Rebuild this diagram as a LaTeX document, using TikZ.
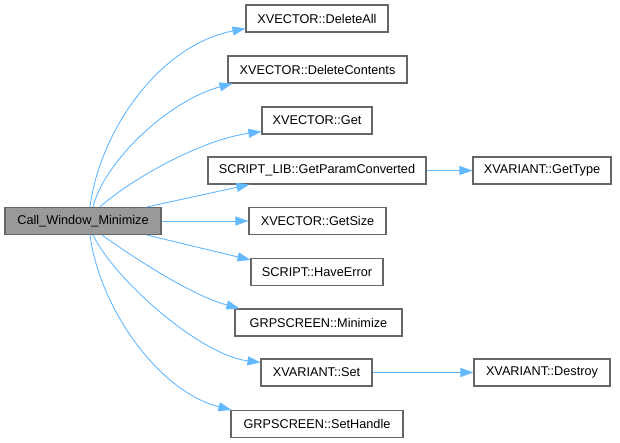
\documentclass[tikz,border=0pt]{standalone}
\usepackage{fontspec}
\setmainfont{Liberation Sans}
\usetikzlibrary{arrows.meta}
\definecolor{edgeblue}{HTML}{63B8FF}
\definecolor{boxborder}{HTML}{666666}
\definecolor{mainfill}{HTML}{999999}
\begin{document}
\begin{tikzpicture}[x=1pt,y=-1pt,
  box/.style={draw=boxborder, fill=white, line width=1.1pt, minimum height=27pt, inner sep=0pt, font=\fontsize{12.7}{14}\selectfont},
  mainbox/.style={box, fill=mainfill},
  edge/.style={draw=edgeblue, line width=0.9pt, -{Triangle[length=13pt,width=9pt]}}]
\useasboundingbox (0,0) rectangle (620,443);
\node[mainbox, minimum width=156pt] (main) at (83,221) {Call\_Window\_Minimize};
\node[box, minimum width=142pt] (dall) at (317,18.5) {XVECTOR::DeleteAll};
\node[box, minimum width=179pt] (dcon) at (317.5,69.5) {XVECTOR::DeleteContents};
\node[box, minimum width=110pt] (get) at (317,120.5) {XVECTOR::Get};
\node[box, minimum width=218pt] (gpc) at (317,170.5) {SCRIPT\_LIB::GetParamConverted};
\node[box, minimum width=138pt] (gtype) at (542,170.5) {XVARIANT::GetType};
\node[box, minimum width=137pt] (gsize) at (317.5,221) {XVECTOR::GetSize};
\node[box, minimum width=132pt] (herr) at (317,272) {SCRIPT::HaveError};
\node[box, minimum width=167pt] (mini) at (318.5,322.5) {GRPSCREEN::Minimize};
\node[box, minimum width=111pt] (set) at (316.5,372.5) {XVARIANT::Set};
\node[box, minimum width=136pt] (destroy) at (542,372.5) {XVARIANT::Destroy};
\node[box, minimum width=172pt] (seth) at (317,424) {GRPSCREEN::SetHandle};

\draw[edge] ([shift={(7,0)}]main.north) .. controls (100,130) and (160,45) .. ([shift={(0,-4)}]dall.south west);
\draw[edge] ([shift={(10,0)}]main.north) .. controls (105,160) and (170,100) .. ([shift={(5,0)}]dcon.south west);
\draw[edge] ([shift={(17,0)}]main.north) .. controls (130,180) and (200,140) .. ([shift={(0,-3)}]get.south west);
\draw[edge] ([shift={(64,0)}]main.north) -- ([shift={(42,0)}]gpc.south west);
\draw[edge] (main.east) -- (gsize.west);
\draw[edge] ([shift={(64,0)}]main.south) -- ([shift={(0,2)}]herr.north west);
\draw[edge] ([shift={(19,0)}]main.south) .. controls (130,255) and (190,295) .. ([shift={(5,0)}]mini.north west);
\draw[edge] ([shift={(10,0)}]main.south) .. controls (115,280) and (200,355) .. ([shift={(0,4)}]set.north west);
\draw[edge] ([shift={(7,0)}]main.south) .. controls (100,310) and (160,392) .. ([shift={(1,0)}]seth.north west);
\draw[edge] (gpc.east) -- (gtype.west);
\draw[edge] (set.east) -- (destroy.west);
\end{tikzpicture}
\end{document}
